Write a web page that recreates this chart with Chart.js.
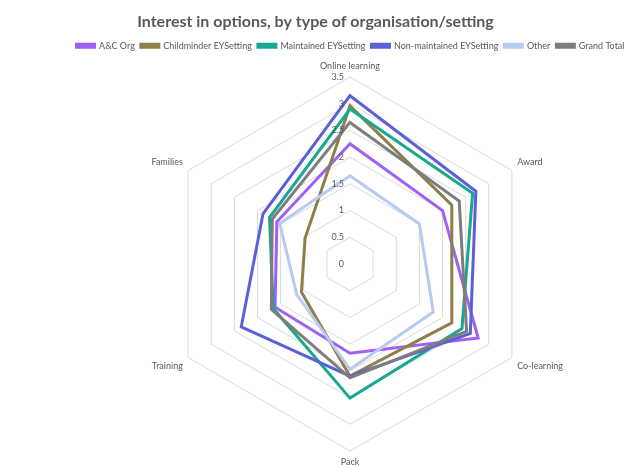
<!DOCTYPE html>
<html>
<head>
<meta charset="utf-8">
<script src="https://cdn.jsdelivr.net/npm/chart.js@4"></script>
<style>
  html, body { margin: 0; padding: 0; background: #fff; }
  #wrap { width: 631px; height: 468px; }
</style>
</head>
<body>
<div id="wrap"><canvas id="grafico"></canvas></div>
<script>
// ejes del radar y valores de cada tipo de organización
const temas = ["Online learning", "Award", "Co-learning", "Pack", "Training", "Families"];
const series = ["A&C Org", "Childminder EYSetting", "Maintained EYSetting", "Non-maintained EYSetting", "Other", "Grand Total"];

const acOrg = [2.25, 2.0, 2.77, 1.67, 1.62, 1.58];
const childminder = [2.96, 2.2, 2.2, 2.1, 1.05, 0.97];
const maintained = [2.9, 2.65, 2.42, 2.51, 1.66, 1.74];
const nonMaintained = [3.15, 2.72, 2.6, 2.1, 2.35, 1.88];
const other = [1.65, 1.5, 1.8, 1.97, 1.15, 1.52];
const grandTotal = [2.65, 2.36, 2.52, 2.13, 1.7, 1.68];

const ticks = [0, 0.5, 1, 1.5, 2, 2.5, 3, 3.5];

const colores = ["#a05ff5", "#8c7f4a", "#17a88f", "#5b5fd8", "#b8caf2", "#7d7d7d"];
const valores = [acOrg, childminder, maintained, nonMaintained, other, grandTotal];

const fuente = "Lato, 'Open Sans', sans-serif";

// el último (Grand Total) se dibuja encima, como en Excel
const datasets = series.map((nombre, i) => ({
  label: nombre,
  data: valores[i],
  borderColor: colores[i],
  backgroundColor: colores[i],
  fill: false,
  borderWidth: 3,
  pointRadius: 0,
  pointHoverRadius: 0,
})).reverse();

// etiquetas de los ticks a la izquierda del eje, como en Excel
const etiquetasTicks = {
  id: "etiquetasTicks",
  afterDraw(chart) {
    const r = chart.scales.r;
    const ctx = chart.ctx;
    ctx.save();
    ctx.font = "9px " + fuente;
    ctx.fillStyle = "#595959";
    ctx.textAlign = "right";
    ctx.textBaseline = "middle";
    ticks.forEach((t) => {
      const d = r.getDistanceFromCenterForValue(t);
      ctx.fillText(String(t), r.xCenter - 6, r.yCenter - d);
    });
    ctx.restore();
  },
};

// título centrado en todo el lienzo
const tituloCentrado = {
  id: "tituloCentrado",
  afterLayout(chart) {
    const t = chart.titleBlock;
    if (t) { t.left = 0; t.right = chart.width; t.width = chart.width; }
  },
};

new Chart(document.getElementById("grafico"), {
  type: "radar",
  data: { labels: temas, datasets: datasets },
  plugins: [etiquetasTicks, tituloCentrado],
  options: {
    responsive: true,
    maintainAspectRatio: false,
    animation: false,
    layout: { padding: { left: 70, right: 0, top: 2, bottom: 0 } },
    scales: {
      r: {
        min: 0,
        max: 3.5,
        ticks: { stepSize: 0.5, display: false },
        grid: { color: "#d9d9d9", lineWidth: 1, circular: false },
        angleLines: { display: false },
        pointLabels: {
          color: "#595959",
          font: { family: fuente, size: 9 },
          padding: 6,
        },
      },
    },
    plugins: {
      title: {
        display: true,
        text: "Interest in options, by type of organisation/setting",
        color: "#595959",
        font: { family: fuente, size: 16, weight: "bold" },
        padding: { top: 10, bottom: 4 },
      },
      legend: {
        reverse: true,
        labels: {
          color: "#595959",
          font: { family: fuente, size: 9 },
          boxWidth: 18,
          boxHeight: 3,
          padding: 6,
        },
      },
      tooltip: { enabled: false },
    },
  },
});
</script>
</body>
</html>
